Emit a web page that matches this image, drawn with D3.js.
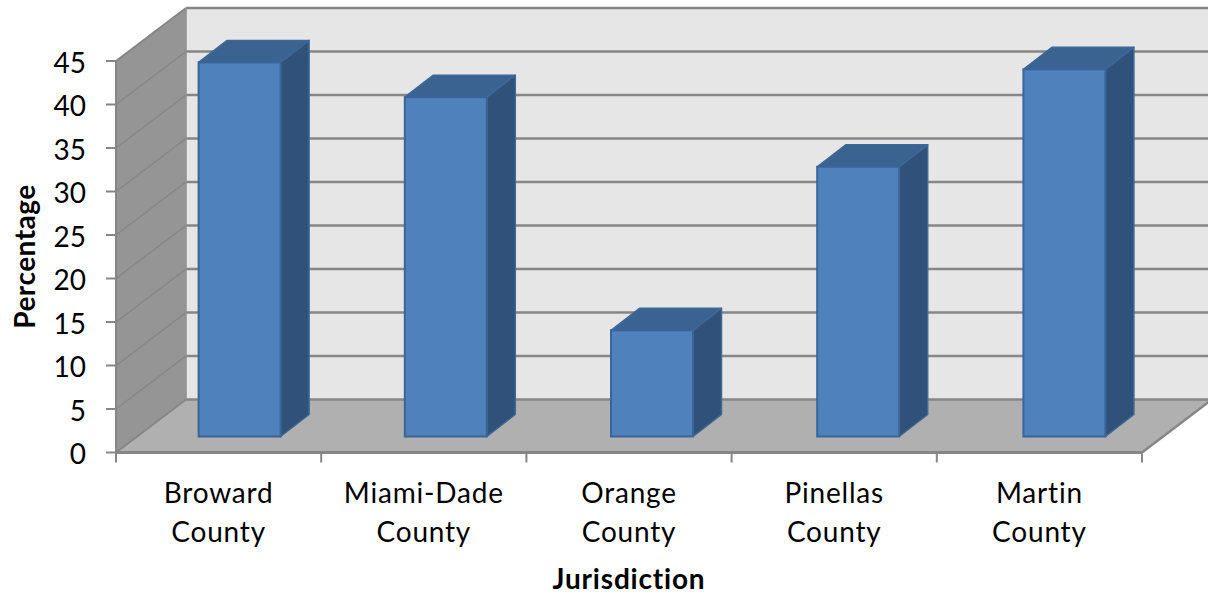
<!DOCTYPE html>
<html>
<head>
<meta charset="utf-8">
<style>
html,body{margin:0;padding:0;background:#fff;overflow:hidden}
text{font-family:Lato,sans-serif;fill:#000}
</style>
<script src="https://cdn.jsdelivr.net/npm/d3@7"></script>
</head>
<body>
<svg id="chart" width="1208" height="595"></svg>
<script>
// Survey results by jurisdiction
const categories = [["Broward","County"],["Miami-Dade","County"],["Orange","County"],["Pinellas","County"],["Martin","County"]];
const percentages = [43, 39, 12.2, 31, 42.2];
const yTicks = [0,5,10,15,20,25,30,35,40,45];
const yAxisTitle = "Percentage";
const xAxisTitle = "Jurisdiction";

const svg = d3.select("#chart");
const line = "#868686";
const fontSize = 28;

// Oblique projection: front plane scales, plus a depth vector for the box
const x = d3.scaleBand().domain(d3.range(categories.length)).range([116,1142]);
const y = d3.scaleLinear().domain([0,45]).range([452.5,61]);
// Bars sit partway into the box, so they get a slightly wider pitch
const xBars = d3.scaleBand().domain(d3.range(categories.length)).range([136.5,1167.5]);
const depth = {dx:70, dy:-53};
const barDepth = {dx:28.5, dy:-22};
const barLift = -16;
const barWidth = 82;

const poly = pts => pts.map(p => p.join(",")).join(" ");
const x0 = x.range()[0], x1 = x.range()[1], y0 = y(0), yT = y(45);
const bd = depth.dx, bh = depth.dy;

// Walls and floor
svg.append("polygon").attr("points", poly([[x0+bd,yT+bh],[1208,yT+bh],[1208,y0+bh],[x0+bd,y0+bh]])).attr("fill","#e6e6e6");
svg.append("polygon").attr("points", poly([[x0,yT],[x0+bd,yT+bh],[x0+bd,y0+bh],[x0,y0]])).attr("fill","#959595");
svg.append("polygon").attr("points", poly([[x0,y0],[x0+bd,y0+bh],[x1+bd,y0+bh],[x1,y0]])).attr("fill","#b0b0b0");

// Gridlines run along the side wall, then across the back wall
yTicks.forEach(t => {
  svg.append("line").attr("x1",x0).attr("y1",y(t)).attr("x2",x0+bd).attr("y2",y(t)+bh)
    .attr("stroke",line).attr("stroke-width",t===45||t===0?2:1.5);
  svg.append("line").attr("x1",x0+bd).attr("y1",y(t)+bh).attr("x2",1208).attr("y2",y(t)+bh)
    .attr("stroke",line).attr("stroke-width",2.5);
});
svg.append("line").attr("x1",x0+bd).attr("y1",yT+bh).attr("x2",x0+bd).attr("y2",y0+bh).attr("stroke","#8f8f8f").attr("stroke-width",1.5);
svg.append("line").attr("x1",x1).attr("y1",y0).attr("x2",x1+bd).attr("y2",y0+bh).attr("stroke",line).attr("stroke-width",2.5);

// Front axes and their tick labels
svg.append("line").attr("x1",x0).attr("y1",yT).attr("x2",x0).attr("y2",y0).attr("stroke",line).attr("stroke-width",2);
svg.append("line").attr("x1",x0-1).attr("y1",y0).attr("x2",x1).attr("y2",y0).attr("stroke",line).attr("stroke-width",3);
const yAxis = svg.append("g");
yAxis.selectAll("line").data(yTicks).join("line")
  .attr("x1",x0-10).attr("x2",x0).attr("y1",d=>y(d)).attr("y2",d=>y(d))
  .attr("stroke",line).attr("stroke-width",2);
yAxis.selectAll("text").data(yTicks).join("text")
  .attr("x",86).attr("y",d=>y(d)+11.5).attr("text-anchor","end").attr("font-size",fontSize).text(d=>d);
svg.append("g").selectAll("line").data(d3.range(categories.length+1)).join("line")
  .attr("x1",d=>x0+d*x.bandwidth()).attr("x2",d=>x0+d*x.bandwidth()).attr("y1",y0).attr("y2",y0+10)
  .attr("stroke",line).attr("stroke-width",2);

// Boxes: front face, top face and side face
const bars = svg.append("g").selectAll("g").data(percentages).join("g");
const fx = (d,i) => xBars(i)+xBars.bandwidth()/2-barWidth/2;
const bY = d => y(d)+barLift;
const vb = barDepth;
bars.append("polygon").attr("points",(d,i)=>{const l=fx(d,i),r=l+barWidth,t=bY(d);
    return poly([[l,t],[l+vb.dx,t+vb.dy],[r+vb.dx,t+vb.dy],[r,t]]);})
  .attr("fill","#3b6392").attr("stroke","#3f6797").attr("stroke-width",1.5).attr("stroke-linejoin","round");
bars.append("polygon").attr("points",(d,i)=>{const r=fx(d,i)+barWidth,t=bY(d),b=bY(0);
    return poly([[r,t],[r+vb.dx,t+vb.dy],[r+vb.dx,b+vb.dy],[r,b]]);})
  .attr("fill","#30527a").attr("stroke","#3f6797").attr("stroke-width",1.5).attr("stroke-linejoin","round");
bars.append("rect").attr("x",fx).attr("y",d=>bY(d)).attr("width",barWidth).attr("height",d=>bY(0)-bY(d))
  .attr("fill","#4f81bd").attr("stroke","#3a6598").attr("stroke-width",2);

// Category labels on two lines
const labels = svg.append("g").selectAll("text").data(categories).join("text")
  .attr("text-anchor","middle").attr("font-size",fontSize).attr("letter-spacing",0.8);
labels.append("tspan").attr("x",(d,i)=>x(i)+x.bandwidth()/2).attr("y",503).text(d=>d[0]);
labels.append("tspan").attr("x",(d,i)=>x(i)+x.bandwidth()/2).attr("y",542).text(d=>d[1]);

// Axis titles
svg.append("text").attr("x",629).attr("y",589).attr("text-anchor","middle")
  .attr("font-size",fontSize).attr("font-weight",700).attr("letter-spacing",0.8).text(xAxisTitle);
svg.append("text").attr("transform","translate(35,256.5) rotate(-90)").attr("text-anchor","middle")
  .attr("font-size",fontSize).attr("font-weight",700).attr("letter-spacing",0.5).text(yAxisTitle);
</script>
</body>
</html>
